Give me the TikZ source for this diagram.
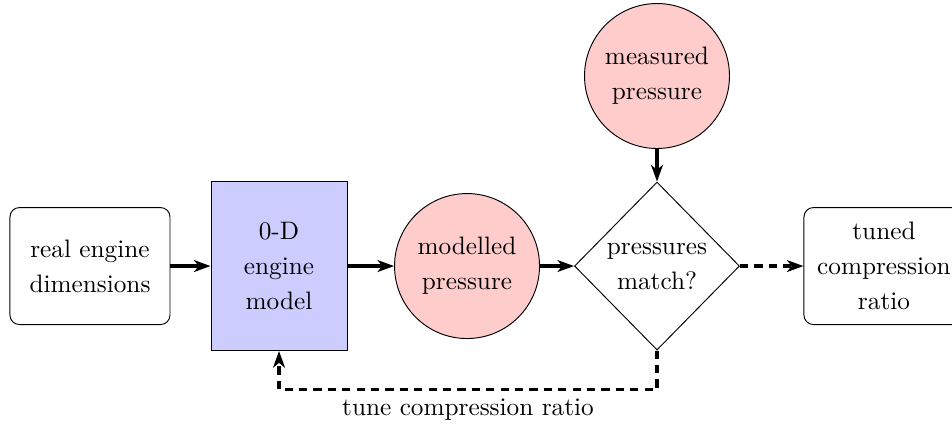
\documentclass[tikz,border=0pt]{standalone}
\definecolor{modelblue}{RGB}{204, 204, 255}
\definecolor{datapink}{RGB}{255, 204, 204}
\usepackage{tikz}
\usetikzlibrary{shapes.geometric, arrows.meta, positioning, calc}

\begin{document}
\begin{tikzpicture}[
        >={Stealth[length=7pt, width=5pt, inset=2pt]},
        every node/.style={font=\fontsize{10.7}{14.8}\selectfont, align=center},
        endbox/.style={draw, rounded corners, minimum width=2.383cm, minimum height=1.742cm},
        modelbox/.style={draw, fill=modelblue, minimum width=2.025cm, minimum height=2.517cm},
        pressure/.style={draw, circle, fill=datapink, minimum size=2.159cm, inner sep=1pt},
        decision/.style={draw, diamond, aspect=1, minimum width=2.457cm, minimum height=2.502cm, inner sep=0pt},
        flow/.style={line width=1.5pt, ->},
        tuning/.style={line width=1.5pt, dash pattern=on 3.5pt off 2.6pt, ->}
    ]
    \useasboundingbox (0,0) rectangle (14.177,6.404);

    % Main row
    \node[endbox] (dims) at (1.340,2.442) {real engine\\dimensions};
    \node[modelbox] (model) at (4.155,2.442) {0-D\\engine\\model};
    \node[pressure] (modelled) at (6.955,2.442) {modelled\\pressure};
    \node[decision] (match) at (9.784,2.442) {pressures\\match?};
    \node[endbox] (tuned) at (13.164,2.442) {tuned\\compression\\ratio};

    % Measurement
    \node[pressure] (measured) at (9.784,5.272) {measured\\pressure};

    % Arrows
    \draw[flow] (dims) -- (model);
    \draw[flow] (model) -- (modelled);
    \draw[flow] (modelled) -- (match);
    \draw[flow] (measured) -- (match);
    \draw[tuning] (match) -- (tuned);

    % Feedback loop
    \draw[tuning] (match.south) -- ++(0,-0.58) -| node[pos=0.25, below] {tune compression ratio} (model.south);
\end{tikzpicture}
\end{document}
